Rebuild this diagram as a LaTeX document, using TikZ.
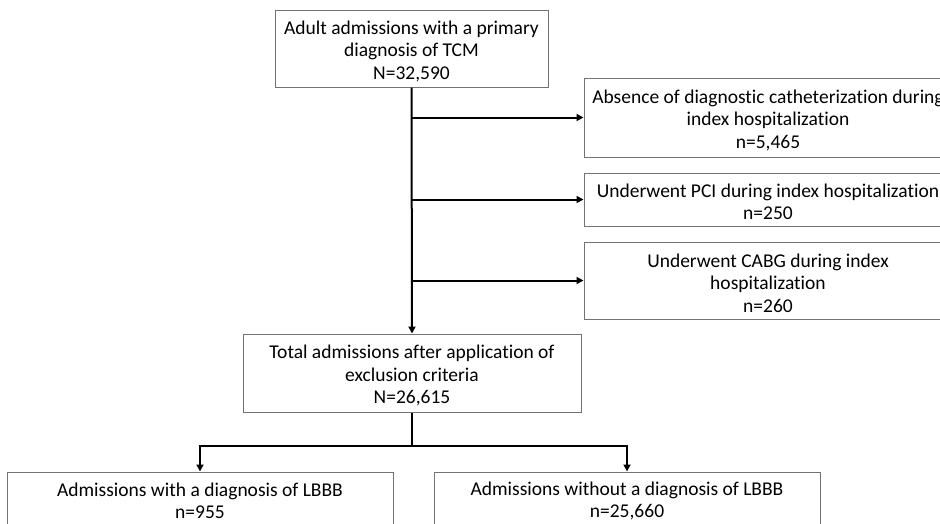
\documentclass[tikz,border=0pt]{standalone}
\usepackage{fontspec}
\setmainfont{Carlito}[Ligatures=NoCommon]
\usetikzlibrary{arrows.meta}
\newcommand\firststrut{\rule{0pt}{18.5pt}}
\begin{document}
\begin{tikzpicture}[x=1pt,y=-1pt,
  box/.style={draw=black!55,line width=1pt,fill=white,align=center,inner sep=0pt,
    font=\fontsize{19.5}{22.5}\selectfont,text=black},
  conn/.style={line width=2pt,-{Triangle[length=7pt,width=7pt]}}]
\useasboundingbox (0,0) rectangle (940,523);
\clip (0,0) rectangle (940,523);
\fill[white] (0,0) rectangle (940,523);
\node[box,minimum width=273pt,minimum height=77pt] (top) at (411.5,48.5)
  {\firststrut Adult admissions with a primary\\diagnosis of TCM\\N=32,590};
\node[box,minimum width=368pt,minimum height=79pt] (ex1) at (768,117.5)
  {\firststrut Absence of diagnostic catheterization during\\index hospitalization\\n=5,465};
\node[box,minimum width=368pt,minimum height=53pt] (ex2) at (768,199.5)
  {\firststrut Underwent PCI during index hospitalization\\n=250};
\node[box,minimum width=368pt,minimum height=77pt] (ex3) at (768,280.5)
  {\firststrut Underwent CABG during index\\hospitalization\\n=260};
\node[box,minimum width=338pt,minimum height=78pt] (tot) at (412,373)
  {\firststrut Total admissions after application of\\exclusion criteria\\N=26,615};
\node[box,minimum width=386pt,minimum height=53pt] (lb) at (200,498.5)
  {\firststrut Admissions with a diagnosis of LBBB\\n=955};
\node[box,minimum width=386pt,minimum height=53pt] (nlb) at (627,498.5)
  {\firststrut Admissions without a diagnosis of LBBB\\n=25,660};
\coordinate (b1) at (top.south |- ex1.west);
\coordinate (b2) at (top.south |- ex2.west);
\coordinate (b3) at (top.south |- ex3.west);
\coordinate (split) at (412,446);
\coordinate (sl) at (lb.north |- split);
\coordinate (sr) at (nlb.north |- split);
\draw[conn] (top.south) -- (tot.north);
\draw[conn] (b1) -- (ex1.west);
\draw[conn] (b2) -- (ex2.west);
\draw[conn] (b3) -- (ex3.west);
\draw[line width=2pt] (tot.south) -- (split);
\draw[conn] ([xshift=1pt]split) -- (sl) -- (lb.north);
\draw[conn] ([xshift=-1pt]split) -- (sr) -- (nlb.north);
\end{tikzpicture}
\end{document}
